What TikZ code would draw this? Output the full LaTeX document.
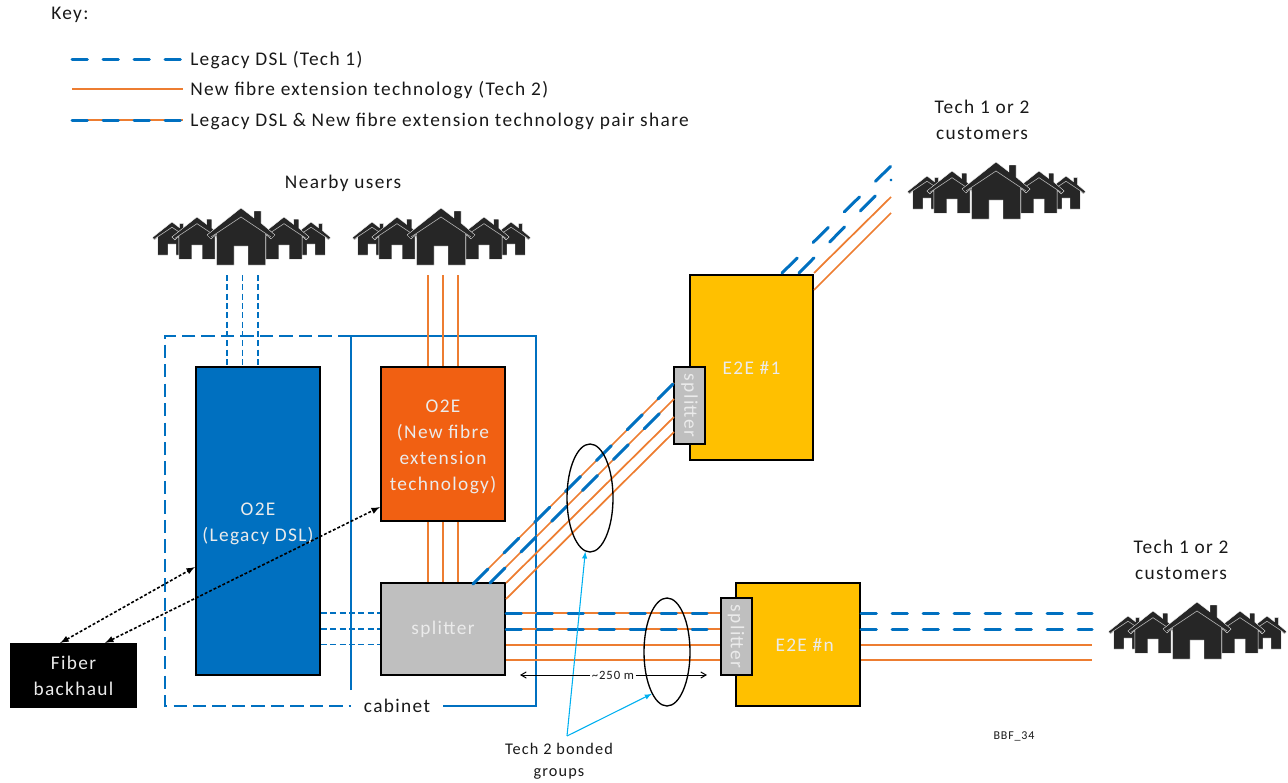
\documentclass[tikz,border=0pt]{standalone}
\usepackage{fontspec}
\setmainfont[LetterSpace=7]{Carlito}
\usetikzlibrary{arrows,shapes.geometric}
\definecolor{dslblue}{RGB}{0,112,192}
\definecolor{fibreorange}{RGB}{237,125,49}
\definecolor{o2eorange}{RGB}{241,96,18}
\definecolor{splitgrey}{RGB}{191,191,191}
\definecolor{e2eyellow}{RGB}{255,192,0}
\definecolor{bondcyan}{RGB}{0,176,240}
\definecolor{homedark}{RGB}{38,38,38}
\newcommand{\lowerstrut}{\rule{0pt}{13.3pt}}
\tikzset{
	mainfont/.style={font=\fontsize{14.5}{19.5}\selectfont},
	label/.style={mainfont,text=black!90,align=center,inner sep=0pt},
	unitbox/.style={mainfont,draw=black,line width=1.5pt,text=white!92!black,align=center,inner sep=0pt},
	legacy/.style={draw=dslblue,line width=2.25pt,line cap=round,dash pattern=on 11.5pt off 11.75pt},
	legacydiag/.style={draw=dslblue,line width=2.25pt,line cap=round,dash pattern=on 16pt off 16.7pt},
	thindsl/.style={draw=dslblue,line width=1.1pt,dash pattern=on 4.5pt off 2.5pt},
	fibre/.style={draw=fibreorange,line width=1.3pt},
	cabinetline/.style={draw=dslblue,line width=.85pt},
	cabinetdash/.style={cabinetline,dash pattern=on 10pt off 4.6pt},
	bonded/.style={draw=black,line width=1pt,ellipse,minimum width=34.5pt,minimum height=81pt,inner sep=0pt},
	bondarrow/.style={draw=bondcyan,line width=.8pt,-latex},
	backhaul/.style={draw=black,line width=1.2pt,dash pattern=on 2.2pt off 1.5pt,latex-latex},
	onehouse/.pic={
		\fill[homedark,draw=white,line width=.25pt] (0,0) -- (13,10) -- (13,3) -- (20,3) -- (20,15) -- (34,27) -- (30,31) -- (24.5,26) -- (24.5,57) -- (7,57) -- (7,38) -- (-7,38) -- (-7,57) -- (-24.5,57) -- (-24.5,26) -- (-30,31) -- (-34,27) -- cycle;
		\draw[white!70!black,line width=.45pt] (-30,29) -- (0,9) -- (30,29);
	},
	homes/.pic={
		\pic[scale=.58] at (-69,14) {onehouse};
		\pic[scale=.58] at (70,14) {onehouse};
		\pic[scale=.74] at (-44,9) {onehouse};
		\pic[scale=.74] at (43,9) {onehouse};
		\pic at (0,0) {onehouse};
	}
}

\begin{document}
\begin{tikzpicture}[x=0.75pt,y=-0.75pt]
	\useasboundingbox (0,0) rectangle (1288,782);

	% key
	\node (keytitle)[label,anchor=west] at (51,15) {Key:};
	\node (key1)[label,anchor=west,inner xsep=5.25pt] at (183,60) {Legacy DSL (Tech 1)};
	\node (key2)[label,anchor=west,inner xsep=5.25pt] at (183,90) {New fibre extension technology (Tech 2)};
	\node (key3)[label,anchor=west,inner xsep=5.25pt] at (183,121) {Legacy DSL \& New fibre extension technology pair share};
	\coordinate (k1) at (72,59);
	\coordinate (k2) at (72,89);
	\coordinate (k3) at (72,120);
	\draw[legacy] (k1) -- (key1.west |- k1);
	\draw[fibre] (k2) -- (key2.west |- k2);
	\draw[fibre] (k3) -- (key3.west |- k3);
	\draw[legacy] (k3) -- (key3.west |- k3);

	% cabinet
	\node (cabinet)[label,inner xsep=9.5pt] at (397,706) {cabinet};
	\draw[cabinetdash] (351,336) -- (165,336) -- (165,706) -- (cabinet.west);
	\draw[cabinetline] (351,690) -- (351,336) -- (536,336) -- (536,706) -- (cabinet.east);

	% boxes
	\node (legacybox)[unitbox,fill=dslblue,minimum width=93pt,minimum height=231pt] at (258,521) {\lowerstrut O2E\\(Legacy DSL)};
	\node (newbox)[unitbox,fill=o2eorange,minimum width=93pt,minimum height=115.5pt] at (443,444) {\lowerstrut O2E\\(New fibre\\extension\\technology)};
	\node (mainsplit)[unitbox,draw=black,fill=splitgrey,minimum width=93pt,minimum height=69pt] at (443,629) {splitter};
	\node (e2eone)[unitbox,fill=e2eyellow,minimum width=92pt,minimum height=139pt] at (751.5,367.5) {E2E \#1};
	\node (e2en)[unitbox,fill=e2eyellow,minimum width=93pt,minimum height=92pt] at (798,644.5) {\hspace*{10pt}E2E \#n};
	\node (splitone)[unitbox,fill=splitgrey,rotate=-90,minimum width=57.75pt,minimum height=23.25pt] at (689.5,405.5) {splitter};
	\node (splitn)[unitbox,fill=splitgrey,rotate=-90,minimum width=57.75pt,minimum height=23.25pt] at (736,636.5) {splitter};
	\node (fiber)[unitbox,fill=black,minimum width=93.75pt,minimum height=47.25pt] at (73.5,675.5) {Fiber\\backhaul};

	% houses and their labels
	\pic at (241,208) {homes};
	\pic at (441,208) {homes};
	\pic at (996,162) {homes};
	\pic at (1197,602) {homes};
	\node (nearby)[label] at (343,183) {Nearby users};
	\node (custone)[label] at (982,119.5) {Tech 1 or 2\\customers};
	\node (custn)[label] at (1181,560) {Tech 1 or 2\\customers};

	% nearby users
	\coordinate (nearA) at (258,275);
	\coordinate (nearB) at (443,275);
	\draw[thindsl] ([xshift=-23.25pt]nearA) -- ([xshift=-23.25pt]legacybox.north);
	\draw[thindsl] ([xshift=-11.6pt]nearA) -- ([xshift=-11.6pt]legacybox.north);
	\draw[thindsl] (nearA) -- (legacybox.north);
	\draw[fibre] ([xshift=-11.5pt]nearB) -- ([xshift=-11.5pt]newbox.north);
	\draw[fibre] (nearB) -- (newbox.north);
	\draw[fibre] ([xshift=11.5pt]nearB) -- ([xshift=11.5pt]newbox.north);

	% o2e to splitter
	\draw[fibre] ([xshift=-11.5pt]newbox.south) -- ([xshift=-11.5pt]mainsplit.north);
	\draw[fibre] (newbox.south) -- (mainsplit.north);
	\draw[fibre] ([xshift=11.5pt]newbox.south) -- ([xshift=11.5pt]mainsplit.north);
	\draw[thindsl] ([yshift=12pt]mainsplit.west -| legacybox.east) -- ([yshift=12pt]mainsplit.west);
	\draw[thindsl] (mainsplit.west -| legacybox.east) -- (mainsplit.west);
	\draw[thindsl] ([yshift=-11.6pt]mainsplit.west -| legacybox.east) -- ([yshift=-11.6pt]mainsplit.west);

	% diagonal run to E2E #1
	\coordinate (a1) at (473,584);
	\coordinate (b1) at (490,583);
	\coordinate (c1) at (506,583);
	\coordinate (d1) at (506,599);
	\coordinate (a2) at (674,383);
	\coordinate (b2) at (674,399);
	\coordinate (c2) at (674,417);
	\coordinate (d2) at (674,432);
	\draw[fibre] (a1) -- (a2);
	\draw[fibre] (b1) -- (b2);
	\draw[fibre] (c1) -- (c2);
	\draw[fibre] (d1) -- (d2);
	\draw[legacydiag] (a1) -- (a2);
	\draw[legacydiag] (b1) -- (b2);

	% customers of E2E #1
	\coordinate (a3) at (782,273);
	\coordinate (b3) at (799,273);
	\coordinate (c3) at (814,273);
	\coordinate (d3) at (814,290);
	\coordinate (a4) at (891,166);
	\coordinate (b4) at (891,180);
	\coordinate (c4) at (891,197);
	\coordinate (d4) at (891,213);
	\draw[legacydiag] (a3) -- (a4);
	\draw[legacydiag] (b3) -- (b4);
	\draw[fibre] (c3) -- (c4);
	\draw[fibre] (d3) -- (d4);

	% horizontal run to E2E #n
	\foreach \y in {613,629,645,660}{
		\draw[fibre] (mainsplit.east |- 0,\y) -- (splitn.south |- 0,\y);
	}
	\foreach \y in {613,629}{
		\draw[legacy] (mainsplit.east |- 0,\y) -- (707,\y);
		\draw[legacy] (e2en.east |- 0,\y) -- (1092,\y);
	}
	\foreach \y in {645,660}{
		\draw[fibre] (e2en.east |- 0,\y) -- (1092,\y);
	}

	% bonded groups
	\node (bondone)[bonded] at (590,498) {};
	\node (bondn)[bonded] at (667,652) {};
	\node (bondtext)[label,font=\fontsize{12.2}{16.5}\selectfont] at (559,761) {Tech 2 bonded\\groups};
	\coordinate (bondtip) at (567,736);
	\draw[bondarrow] (bondtip) -- (bondone.265);
	\draw[bondarrow] (bondtip) -- (bondn.250);

	% length
	\node (length)[label,fill=white,inner xsep=1pt,font=\fontsize{9.5}{11}\selectfont] at (613,675) {\textasciitilde 250 m};
	\coordinate (lenl) at (520,675);
	\coordinate (lenr) at (707,675);
	\draw[->,>=angle 60,line width=.75pt] (length) -- (lenl);
	\draw[->,>=angle 60,line width=.75pt] (length) -- (lenr);

	% backhaul
	\draw[backhaul] ([xshift=-10pt]fiber.north) -- ([yshift=-34.5pt]legacybox.west);
	\draw[backhaul] ([xshift=23.6pt]fiber.north) -- ([yshift=-47.25pt]newbox.west);

	\node (bbf)[label,font=\fontsize{9}{10}\selectfont] at (1014,736) {BBF\_34};
\end{tikzpicture}
\end{document}
